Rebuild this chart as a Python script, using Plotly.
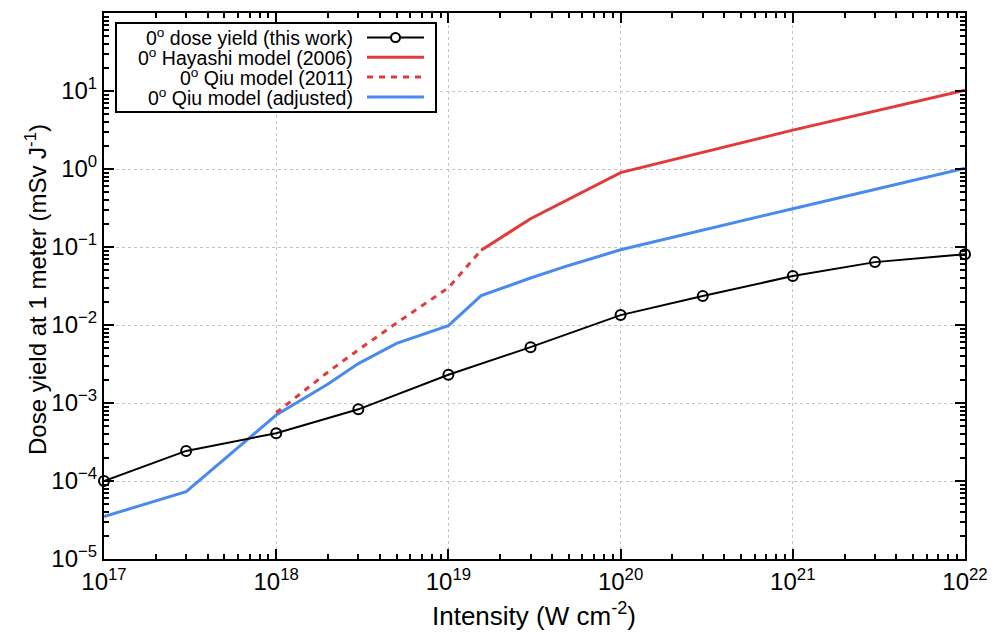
import plotly.graph_objects as go

# ---------------- data ----------------
I_work = [1e17, 3e17, 1e18, 3e18, 1e19, 3e19, 1e20, 3e20, 1e21, 3e21, 1e22]
D_work = [1.0e-4, 2.43e-4, 4.1e-4, 8.3e-4, 2.3e-3, 5.2e-3, 1.34e-2, 2.35e-2, 4.25e-2, 6.4e-2, 8.1e-2]

I_hayashi = [1.55e19, 3e19, 1e20, 1e21, 1e22]
D_hayashi = [0.091, 0.23, 0.9, 3.15, 10.2]

I_qiu2011 = [1e18, 2e18, 3e18, 5e18, 1e19, 1.55e19]
D_qiu2011 = [7.5e-4, 2.5e-3, 4.8e-3, 1.06e-2, 3.0e-2, 0.091]

I_qiuadj = [1e17, 3e17, 1e18, 2e18, 3e18, 5e18, 1e19, 1.55e19, 3e19, 5e19, 1e20, 1e21, 1e22]
D_qiuadj = [3.5e-5, 7.3e-5, 7.0e-4, 1.75e-3, 3.2e-3, 5.8e-3, 9.8e-3, 0.0238, 0.040, 0.058, 0.092, 0.31, 1.02]

x_exponents = [17, 18, 19, 20, 21, 22]
y_exponents = [-5, -4, -3, -2, -1, 0, 1, 2]

x_title = "Intensity (W cm<sup>-2</sup>)"
y_title = "Dose yield at 1 meter (mSv J<sup>-1</sup>)"

legend_labels = [
    "0<sup>o</sup> dose yield (this work)",
    "0<sup>o</sup> Hayashi model (2006)",
    "0<sup>o</sup> Qiu model (2011)",
    "0<sup>o</sup> Qiu model (adjusted)",
]

# ---------------- styles ----------------
BLACK = "#000000"
RED = "#e23a3a"
BLUE = "#4a8aec"
FONT = "Liberation Sans, Arial, Helvetica, sans-serif"

OFF = 8  # page body margin in the browser
W, H = 987, 630
ML, MR, MT, MB = 96, 30, 5, 79
PW, PH = W - ML - MR, H - MT - MB


def px(x):
    return (x - OFF - ML) / PW


def py(y):
    return (H - MB - (y - OFF)) / PH


def pow_text(e):
    return "10<sup>%s</sup>" % str(e).replace("-", "\u2212")


def minor_vals(exps):
    vals = []
    for e in exps[:-1]:
        for k in range(2, 10):
            vals.append(k * 10.0 ** e)
    return vals


fig = go.Figure()

fig.add_trace(go.Scatter(x=I_qiuadj, y=D_qiuadj, mode="lines",
                         line=dict(color=BLUE, width=3), showlegend=False))
fig.add_trace(go.Scatter(x=I_qiu2011, y=D_qiu2011, mode="lines",
                         line=dict(color=RED, width=3, dash="6px,6px"), showlegend=False))
fig.add_trace(go.Scatter(x=I_hayashi, y=D_hayashi, mode="lines",
                         line=dict(color=RED, width=3), showlegend=False))
fig.add_trace(go.Scatter(x=I_work, y=D_work, mode="lines+markers",
                         line=dict(color=BLACK, width=2),
                         marker=dict(symbol="circle-open", size=10, color=BLACK,
                                     line=dict(width=2, color=BLACK)),
                         showlegend=False, cliponaxis=False))

axis_common = dict(
    type="log", tickmode="array", showline=True, linecolor="black",
    linewidth=2, mirror="ticks", ticks="inside", ticklen=10, tickwidth=1.5,
    tickcolor="black", showgrid=True, gridcolor="#c4c4c4", griddash="dot",
    gridwidth=1, zeroline=False, automargin=False,
    tickfont=dict(family=FONT, size=24, color="black"),
)

fig.update_xaxes(**axis_common, range=[17, 22],
                 tickvals=[10.0 ** e for e in x_exponents],
                 ticktext=[pow_text(e) for e in x_exponents],
                 minor=dict(ticks="inside", ticklen=5, tickwidth=1.5, tickcolor="black",
                            tickvals=minor_vals(x_exponents), showgrid=False))
fig.update_yaxes(**axis_common, range=[-5, 2],
                 tickvals=[10.0 ** e for e in y_exponents],
                 ticktext=[pow_text(e) for e in y_exponents],
                 minor=dict(ticks="inside", ticklen=5, tickwidth=1.5, tickcolor="black",
                            tickvals=minor_vals(y_exponents), showgrid=False))

shapes = []
annotations = []

# axis titles
annotations.append(dict(xref="paper", yref="paper", x=px(534), y=py(614),
                        xanchor="center", yanchor="middle", showarrow=False,
                        text=x_title, font=dict(family=FONT, size=26, color="black")))
annotations.append(dict(xref="paper", yref="paper", x=px(36), y=py(290),
                        xanchor="center", yanchor="middle", showarrow=False, textangle=-90,
                        text=y_title, font=dict(family=FONT, size=24, color="black")))

# ---------------- custom legend (text right, sample on right) ----------------
box_l, box_r, box_t, box_b = 116, 436, 23, 112
shapes.append(dict(type="rect", xref="paper", yref="paper",
                   x0=px(box_l), x1=px(box_r), y0=py(box_b), y1=py(box_t),
                   line=dict(color="black", width=2), fillcolor="white", layer="above"))
rows_y = [37.5, 57.3, 77.1, 96.9]
samp_x0, samp_x1 = 367, 424
text_right = 355
styles = [dict(color=BLACK, width=2), dict(color=RED, width=3),
          dict(color=RED, width=3, dash="6px,6px"), dict(color=BLUE, width=3)]
for lab, yy, st in zip(legend_labels, rows_y, styles):
    shapes.append(dict(type="line", xref="paper", yref="paper",
                       x0=px(samp_x0), x1=px(samp_x1), y0=py(yy), y1=py(yy),
                       line=st, layer="above"))
    annotations.append(dict(xref="paper", yref="paper", x=px(text_right), y=py(yy),
                            xanchor="right", yanchor="middle", showarrow=False,
                            text=lab, font=dict(family=FONT, size=19.5, color="black")))
cx = (samp_x0 + samp_x1) / 2
shapes.append(dict(type="circle", xref="paper", yref="paper",
                   xsizemode="pixel", ysizemode="pixel",
                   xanchor=px(cx), yanchor=py(rows_y[0]),
                   x0=-4.5, x1=4.5, y0=-4.5, y1=4.5,
                   line=dict(color="black", width=2), fillcolor="white", layer="above"))

fig.update_layout(
    width=W, height=H, autosize=False,
    margin=dict(l=ML, r=MR, t=MT, b=MB),
    paper_bgcolor="white", plot_bgcolor="white",
    font=dict(family=FONT, color="black"),
    shapes=shapes, annotations=annotations, showlegend=False,
)

fig.write_html("out.html")
